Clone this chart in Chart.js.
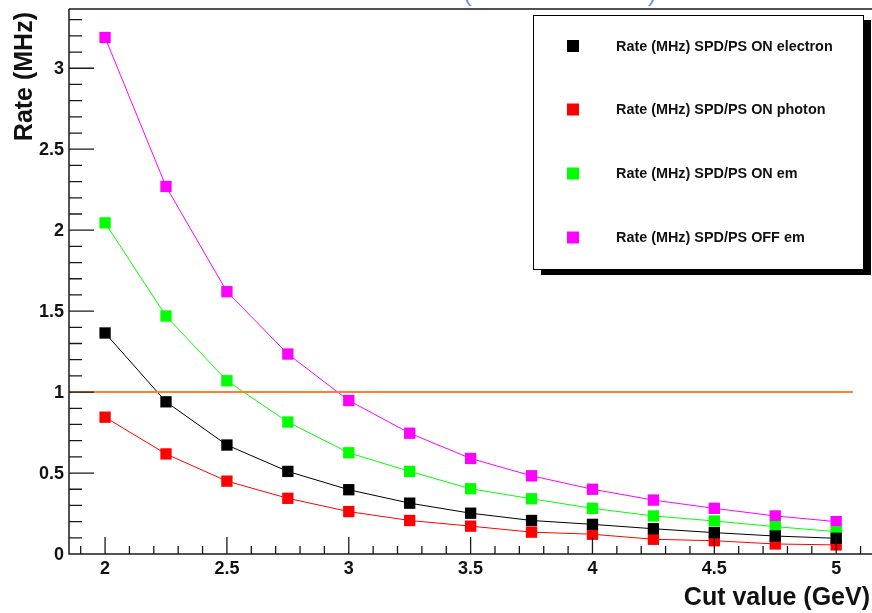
<!DOCTYPE html>
<html>
<head>
<meta charset="utf-8">
<script src="https://cdn.jsdelivr.net/npm/chart.js@4"></script>
<style>
  html, body { margin: 0; padding: 0; background: #fff; }
  canvas { display: block; }
</style>
</head>
<body>
<canvas id="rateChart" width="872" height="613"></canvas>
<script>
// cut values (GeV) and trigger rates (MHz)
var cutValues = [2, 2.25, 2.5, 2.75, 3, 3.25, 3.5, 3.75, 4, 4.25, 4.5, 4.75, 5];
var rateElectron = [1.365, 0.94, 0.673, 0.51, 0.397, 0.314, 0.252, 0.207, 0.183, 0.156, 0.132, 0.111, 0.097];
var ratePhoton = [0.845, 0.618, 0.45, 0.344, 0.262, 0.207, 0.172, 0.135, 0.122, 0.091, 0.082, 0.062, 0.056];
var rateEm = [2.045, 1.47, 1.07, 0.815, 0.625, 0.51, 0.403, 0.341, 0.282, 0.235, 0.204, 0.169, 0.138];
var rateOffEm = [3.19, 2.27, 1.62, 1.235, 0.948, 0.746, 0.59, 0.483, 0.40, 0.333, 0.282, 0.235, 0.2];
var rateLimit = 1;
var xTickLabels = [2, 2.5, 3, 3.5, 4, 4.5, 5];
var yTickLabels = [0, 0.5, 1, 1.5, 2, 2.5, 3];

var FONT = '"Liberation Sans", Arial, sans-serif';

function toPoints(values) {
  return values.map(function (v, i) { return { x: cutValues[i], y: v }; });
}

function series(label, values, color) {
  return {
    label: label,
    data: toPoints(values),
    borderColor: color,
    backgroundColor: color,
    borderWidth: 1,
    pointStyle: "rect",
    pointRadius: 8,
    pointBorderWidth: 0,
    tension: 0,
  };
}

// ROOT style frame: ticks inside, major + minor
var frameAxes = {
  id: "frameAxes",
  afterDraw: function (chart) {
    var ctx = chart.ctx;
    var area = chart.chartArea;
    var xs = chart.scales.x;
    var ys = chart.scales.y;
    ctx.save();
    ctx.strokeStyle = "#1a1a1a";
    ctx.lineWidth = 1.5;

    // frame lines
    ctx.beginPath();
    ctx.moveTo(area.left, area.top);
    ctx.lineTo(area.right, area.top);
    ctx.moveTo(area.left, area.top);
    ctx.lineTo(area.left, area.bottom);
    ctx.lineTo(area.right, area.bottom);
    ctx.stroke();

    // x ticks every 0.1
    ctx.lineWidth = 1.3;
    ctx.beginPath();
    for (var i = 19; i <= 51; i++) {
      var xv = i / 10;
      var px = xs.getPixelForValue(xv);
      var len = i % 5 === 0 ? 17 : 8;
      ctx.moveTo(px, area.bottom);
      ctx.lineTo(px, area.bottom - len);
    }
    // y ticks every 0.1
    for (var j = 1; j <= 33; j++) {
      var yv = j / 10;
      var py = ys.getPixelForValue(yv);
      var ylen = j % 5 === 0 ? 25 : 13;
      ctx.moveTo(area.left, py);
      ctx.lineTo(area.left + ylen, py);
    }
    ctx.stroke();

    // tick labels
    ctx.fillStyle = "#111";
    ctx.font = "bold 18px " + FONT;
    ctx.textAlign = "center";
    ctx.textBaseline = "middle";
    xTickLabels.forEach(function (v) {
      ctx.fillText(String(v), xs.getPixelForValue(v), 569);
    });
    ctx.textAlign = "right";
    yTickLabels.forEach(function (v) {
      ctx.fillText(String(v), 64, ys.getPixelForValue(v) + 1);
    });

    // axis titles
    ctx.font = "bold 25px " + FONT;
    ctx.textAlign = "right";
    ctx.textBaseline = "middle";
    ctx.fillText("Cut value (GeV)", 870, 598);
    ctx.save();
    ctx.translate(25, 12);
    ctx.rotate(-Math.PI / 2);
    ctx.textAlign = "right";
    ctx.fillText("Rate (MHz)", 0, 0);
    ctx.restore();

    // bits of the slide title above the frame
    ctx.fillStyle = "#6f93dc";
    ctx.font = "26px " + FONT;
    ctx.textAlign = "left";
    ctx.textBaseline = "bottom";
    ctx.fillText("(", 463, 7);
    ctx.fillText(")", 648, 7);
    ctx.restore();
  },
};

// boxed legend with drop shadow
var boxLegend = {
  id: "boxLegend",
  afterDraw: function (chart) {
    var ctx = chart.ctx;
    var box = { left: 533, top: 15, right: 863, bottom: 269 };
    ctx.save();
    ctx.fillStyle = "#000";
    ctx.fillRect(box.left + 8, box.top + 5, box.right - box.left, box.bottom - box.top + 1);
    ctx.fillStyle = "#fff";
    ctx.fillRect(box.left, box.top, box.right - box.left, box.bottom - box.top);
    ctx.strokeStyle = "#000";
    ctx.lineWidth = 1;
    ctx.strokeRect(box.left + 0.5, box.top + 0.5, box.right - box.left, box.bottom - box.top);

    var rows = [46, 109.5, 173.5, 237.5];
    ctx.font = "bold 14.4px " + FONT;
    ctx.textAlign = "left";
    ctx.textBaseline = "middle";
    chart.data.datasets.forEach(function (ds, k) {
      if (k >= rows.length) return;
      ctx.fillStyle = ds.borderColor;
      ctx.fillRect(573 - 6, rows[k] - 6, 12, 12);
      ctx.fillStyle = "#111";
      ctx.fillText(ds.label, 616, rows[k] + 1);
    });
    ctx.restore();
  },
};

var ctx = document.getElementById("rateChart").getContext("2d");

var chart = new Chart(ctx, {
  type: "line",
  data: {
    datasets: [
      series("Rate (MHz) SPD/PS ON electron", rateElectron, "#000000"),
      series("Rate (MHz) SPD/PS ON photon", ratePhoton, "#ff0000"),
      series("Rate (MHz) SPD/PS ON em", rateEm, "#00ff00"),
      series("Rate (MHz) SPD/PS OFF em", rateOffEm, "#ff00ff"),
      {
        label: "limit",
        data: [{ x: 1.852, y: rateLimit }, { x: 5.069, y: rateLimit }],
        borderColor: "#ff8033",
        borderWidth: 2,
        pointRadius: 0,
        order: -1,
      },
    ],
  },
  options: {
    responsive: false,
    animation: false,
    devicePixelRatio: 1,
    layout: { autoPadding: false, padding: { left: 69, top: 9, right: 0, bottom: 59 } },
    scales: {
      x: { type: "linear", min: 1.852, max: 5.147, display: false },
      y: { type: "linear", min: 0, max: 3.366, display: false },
    },
    plugins: {
      legend: { display: false },
      tooltip: { enabled: false },
    },
  },
  plugins: [frameAxes, boxLegend],
});
</script>
</body>
</html>
